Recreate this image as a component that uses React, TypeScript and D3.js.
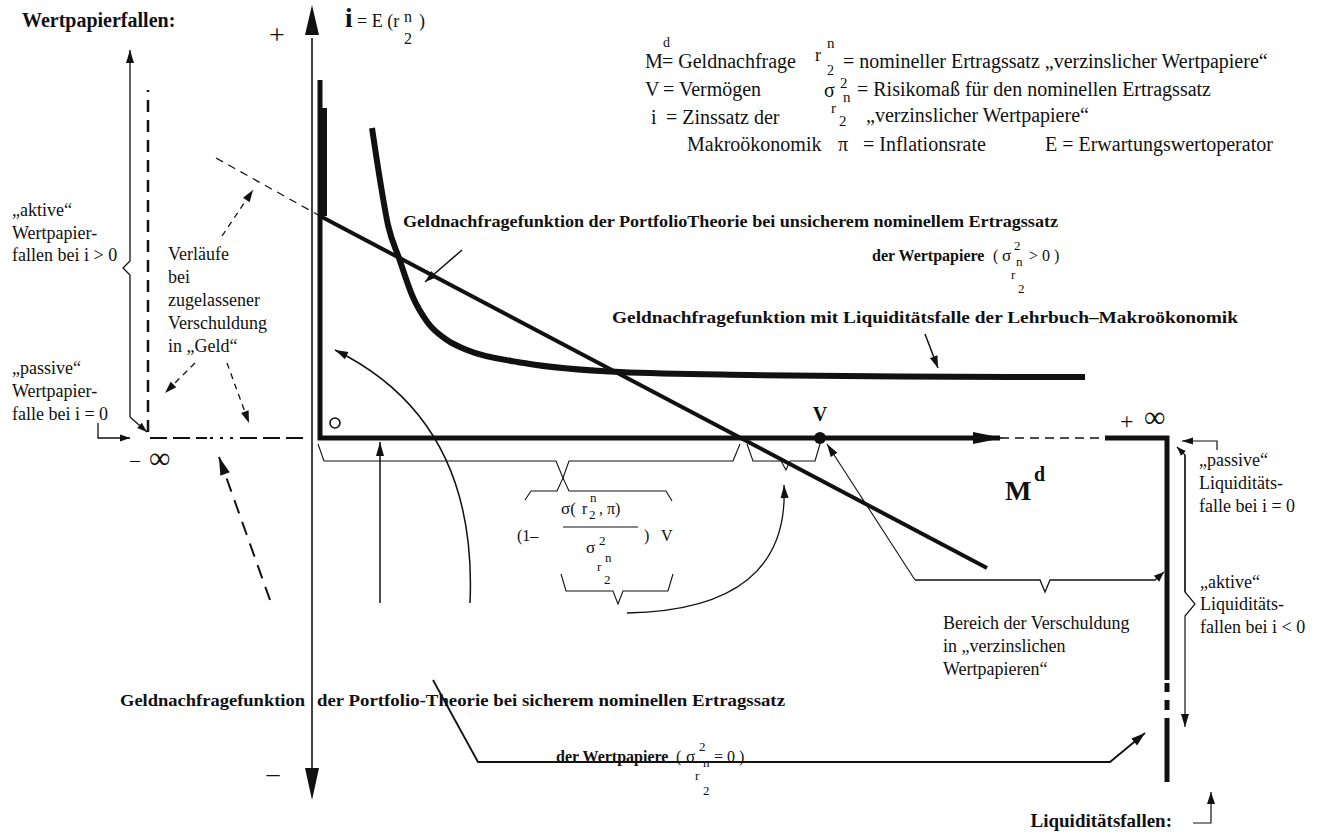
import React from 'react';
import * as d3 from 'd3';

type Pt = [number, number];

// Geldnachfrage M^d (V = 50) gegen Zinssatz i, schematische Einheiten
const trapMd = [5.2, 6.0, 6.8, 7.9, 9.2, 10.8, 12.7, 14.7, 20.4, 30, 42.9, 58, 76.5];
const trapI = [31, 25.8, 21.3, 18, 14.3, 11.5, 9.8, 8.8, 7.5, 6.6, 6.3, 6.15, 6.1];

const riskyMd = [0, 66.7];
const riskyI = [22.2, -13];
const riskyExtMd = [-10.4, 0];
const riskyExtI = [28, 22.2];

const certainMd = [0, 0, 68];
const certainI = [35.8, 0, 0];
const certainTopMd = [0.45, 0.45];
const certainTopI = [33, 22.2];

const V_MD = 50;

const plusInfMd = [78.5, 84.7, 84.7];
const plusInfI = [0, 0, -24.2];
const plusInfBreaks: Pt[] = [[-24.5, -25.4], [-26.2, -27.2], [-28, -34.4]];

const minusInfI = 0;
const minusInfDash: Pt[] = [[-17, -11.3], [-8, -1.7]];
const minusInfDots: Pt = [-12, -8.7];
const passiveWpMd = -17.2;
const passiveWpI: Pt = [0.6, 34.8];

const SERIF = '"Liberation Serif", "Times New Roman", serif';

const X = d3.scaleLinear().domain([0, 50]).range([320, 820]);
const Y = d3.scaleLinear().domain([0, 10]).range([438, 338]);
const zip = (a: number[], b: number[]): Pt[] => a.map((v, k) => [v, b[k]]);
const line = d3.line<Pt>().x(d => X(d[0])).y(d => Y(d[1]));

function headPath(tip: Pt, from: Pt, len = 11, hw = 3.5) {
  const tx = X(tip[0]), ty = Y(tip[1]);
  const fx = X(from[0]), fy = Y(from[1]);
  const dx = tx - fx, dy = ty - fy;
  const d = Math.hypot(dx, dy) || 1;
  const ux = dx / d, uy = dy / d;
  const bx = tx - ux * len, by = ty - uy * len;
  return `M${tx},${ty}L${bx - uy * hw},${by + ux * hw}L${bx + uy * hw},${by - ux * hw}Z`;
}

function quad(p0: Pt, c: Pt, p1: Pt) {
  const p = d3.path();
  p.moveTo(X(p0[0]), Y(p0[1]));
  p.quadraticCurveTo(X(c[0]), Y(c[1]), X(p1[0]), Y(p1[1]));
  return p.toString();
}

const Arrow = ({ pts, w = 1.3, dash, len = 11, hw = 3.5 }: { pts: Pt[]; w?: number; dash?: string; len?: number; hw?: number }) => (
  <g>
    <path d={line(pts) || ''} fill="none" stroke="#111" strokeWidth={w} strokeDasharray={dash} />
    <path d={headPath(pts[pts.length - 1], pts[pts.length - 2], len, hw)} fill="#111" />
  </g>
);

const T = ({ x, y, s = 18, b = false, a = 'start', tl, children }: any) => (
  <text x={x} y={y} fontSize={s} fontWeight={b ? 'bold' : 'normal'} textAnchor={a} fontFamily={SERIF} fill="#111"
    textLength={tl} lengthAdjust={tl ? 'spacingAndGlyphs' : undefined}>{children}</text>
);

const Brace = ({ pts }: { pts: Pt[] }) => (
  <path d={line(pts) || ''} fill="none" stroke="#111" strokeWidth={1.1} />
);

export default function App() {
  const trap = zip(trapMd, trapI);
  const trapLine = d3.line<Pt>().x(d => X(d[0])).y(d => Y(d[1])).curve(d3.curveMonotoneX);
  return (
    <svg width={1330} height={838} style={{ position: 'absolute', left: 0, top: 0, background: '#fff' }}>
      {/* i-Achse */}
      <path d={line([[-0.8, -33], [-0.8, 40]]) || ''} stroke="#111" strokeWidth={1.6} />
      <path d={headPath([-0.8, 43.3], [-0.8, 0], 30, 7)} fill="#111" />
      <path d={headPath([-0.8, -36.2], [-0.8, 0], 32, 7)} fill="#111" />

      {/* sichere Portfolio-Geldnachfrage (L-Form) */}
      <path d={line(zip(certainMd, certainI)) || ''} fill="none" stroke="#111" strokeWidth={5} />
      <path d={line(zip(certainTopMd, certainTopI)) || ''} fill="none" stroke="#111" strokeWidth={5} />
      <path d={headPath([68.3, 0], [0, 0], 30, 6)} fill="#111" />
      <path d={line([[68, 0], [78.3, 0]]) || ''} stroke="#111" strokeWidth={1.3} strokeDasharray="9,6" />
      <path d={line(zip(plusInfMd, plusInfI)) || ''} fill="none" stroke="#111" strokeWidth={5} />
      {plusInfBreaks.map((s, k) => (
        <path key={k} d={line([[plusInfMd[2], s[0]], [plusInfMd[2], s[1]]]) || ''} stroke="#111" strokeWidth={5} />
      ))}

      {/* unsichere Portfolio-Geldnachfrage */}
      <path d={line(zip(riskyMd, riskyI)) || ''} fill="none" stroke="#111" strokeWidth={4} />
      <path d={line(zip(riskyExtMd, riskyExtI)) || ''} fill="none" stroke="#111" strokeWidth={1.2} strokeDasharray="8,6" />

      {/* Lehrbuch-Liquiditätsfalle */}
      <path d={trapLine(trap) || ''} fill="none" stroke="#111" strokeWidth={6} />

      {/* Wertpapierfallen links */}
      <path d={line([[passiveWpMd, passiveWpI[0]], [passiveWpMd, passiveWpI[1]]]) || ''} stroke="#111" strokeWidth={2.5} strokeDasharray="12,8" />
      {minusInfDash.map((s, k) => (
        <path key={k} d={line([[s[0], minusInfI], [s[1], minusInfI]]) || ''} stroke="#111" strokeWidth={2.2} strokeDasharray="17,6" />
      ))}
      <path d={line([[minusInfDots[0], minusInfI], [minusInfDots[1], minusInfI]]) || ''} stroke="#111" strokeWidth={2.2} strokeDasharray="3,7" />

      <circle cx={X(1.5)} cy={Y(1.5)} r={5} fill="none" stroke="#111" strokeWidth={1.6} />
      <circle cx={X(V_MD)} cy={Y(0)} r={6} fill="#111" />

      {/* Pfeile links */}
      <Arrow pts={[[-19, 2.1], [-19, 16.3], [-19.7, 17], [-19, 17.7], [-19, 38.8]]} len={13} hw={4} />
      <Arrow pts={[[-19, 2.1], [-17.3, 0.6]]} len={10} hw={3.5} />
      <Arrow pts={[[-22.2, 1.5], [-22.2, 0], [-19, 0]]} len={10} hw={3.5} />
      <Arrow pts={[[-9.8, 20.2], [-6.7, 24.8]]} dash="6,5" len={12} hw={4} />
      <Arrow pts={[[-12.5, 7.5], [-15.5, 4.5]]} dash="6,5" len={12} hw={4} />
      <Arrow pts={[[-9.3, 7.5], [-7.1, 1.5]]} dash="6,5" len={12} hw={4} />
      <Arrow pts={[[-5, -16.2], [-10.1, -1.9]]} w={2} dash="14,9" len={18} hw={5} />

      {/* Pfeile Mitte */}
      <Arrow pts={[[14.2, 18.8], [10.5, 15.6]]} w={1.5} len={12} hw={4} />
      <Arrow pts={[[60.5, 10.4], [61.8, 7]]} w={1.5} len={12} hw={4} />
      <Arrow pts={[[6, -16.5], [6, -0.4]]} w={1.5} len={14} hw={4} />
      <path d={quad([15, -16.5], [15.8, 1.8], [1.5, 8.8])} fill="none" stroke="#111" strokeWidth={1.5} />
      <path d={headPath([1.5, 8.8], [15.8, 1.8], 13, 4)} fill="#111" />
      <path d={quad([30.7, -17.5], [47, -17.2], [46.4, -4.7])} fill="none" stroke="#111" strokeWidth={1.3} />
      <path d={headPath([46.4, -4.7], [47, -17.2], 13, 4)} fill="#111" />

      <Brace pts={[[-0.2, -0.6], [0.4, -2.3], [23.6, -2.3], [24.3, -4], [24.9, -2.3], [41.3, -2.3], [42, -0.6]]} />
      <Brace pts={[[20.5, -6.2], [21.1, -5.3], [23.7, -5.3], [24.3, -4], [24.9, -5.3], [34.6, -5.3], [35.2, -6.3]]} />
      <Brace pts={[[42.7, -0.6], [43.3, -2.3], [46.1, -2.3], [46.6, -3.2], [47, -2.3], [49.5, -2.3], [50, -0.6]]} />
      <Brace pts={[[24.1, -13.6], [24.6, -15.3], [29.3, -15.3], [29.8, -16.6], [30.3, -15.3], [34.8, -15.3], [35.3, -13.6]]} />

      {/* Pfeile rechts */}
      <Arrow pts={[[59.5, -14.2], [50.7, -0.6]]} w={1.1} len={13} hw={4} />
      <Arrow pts={[[59.5, -14.2], [72, -14.2], [72.5, -15.4], [73, -14.2], [83.5, -14.2], [84.4, -13.4]]} w={1.3} len={10} hw={4} />
      <Arrow pts={[[89.7, -1.2], [89.7, -0.3], [86.2, -0.3]]} w={1.2} len={11} hw={3.5} />
      <Arrow pts={[[86.5, -15.4], [86.5, -1.7], [85.7, -0.9]]} w={1.2} len={9} hw={3.5} />
      <Arrow pts={[[86.5, -1.7], [86.5, -15.4], [87.5, -16.6], [86.5, -17.8], [86.5, -28.9]]} w={1.2} len={13} hw={4} />
      <Arrow pts={[[87.3, -38.5], [89.1, -38.5], [89.1, -35.4]]} w={1.2} len={12} hw={4} />
      <Arrow pts={[[11.3, -24.2], [15.8, -32.4], [79, -32.4], [82.5, -29.5]]} w={1.8} len={14} hw={4.5} />

      {/* Texte */}
      <T x={22} y={27} b s={20}>Wertpapierfallen:</T>
      <T x={277} y={44} s={28} a="middle">+</T>
      <T x={273} y={782} s={26} a="middle">–</T>
      <T x={345} y={27} b s={27}>i</T>
      <T x={357} y={27} s={18}>= E (r</T>
      <T x={404} y={22} s={16}>n</T>
      <T x={404} y={44} s={16}>2</T>
      <T x={419} y={27} s={18}>)</T>

      {/* Legende */}
      <T x={645} y={68} s={20}>M</T>
      <T x={663} y={47} s={14}>d</T>
      <T x={662} y={68} s={20}>= Geldnachfrage</T>
      <T x={645} y={96} s={20}>V</T>
      <T x={663} y={96} s={20}>= Vermögen</T>
      <T x={651} y={124} s={20}>i</T>
      <T x={666} y={124} s={20}>= Zinssatz der</T>
      <T x={687} y={151} s={20}>Makroökonomik</T>
      <T x={815} y={61} s={18}>r</T>
      <T x={827} y={48} s={15}>n</T>
      <T x={827} y={75} s={14}>2</T>
      <T x={843} y={68} s={20}>= nomineller Ertragssatz „verzinslicher Wertpapiere“</T>
      <T x={824} y={97} s={20}>σ</T>
      <T x={840} y={88} s={15}>2</T>
      <T x={843} y={102} s={15}>n</T>
      <T x={831} y={113} s={15}>r</T>
      <T x={839} y={126} s={15}>2</T>
      <T x={857} y={96} s={20}>= Risikomaß für den nominellen Ertragssatz</T>
      <T x={866} y={122} s={20}>„verzinslicher Wertpapiere“</T>
      <T x={838} y={151} s={20}>π</T>
      <T x={863} y={151} s={20}>= Inflationsrate</T>
      <T x={1045} y={151} s={20}>E = Erwartungswertoperator</T>

      <T x={403} y={227} b s={16} tl={655}>Geldnachfragefunktion der PortfolioTheorie bei unsicherem nominellem Ertragssatz</T>
      <T x={872} y={261} b s={16}>der Wertpapiere</T>
      <T x={993} y={261} s={16}>(</T>
      <T x={1002} y={261} s={17}>σ</T>
      <T x={1014} y={250} s={13}>2</T>
      <T x={1016} y={266} s={13}>n</T>
      <T x={1029} y={261} s={16}>{'> 0 )'}</T>
      <T x={1011} y={279} s={13}>r</T>
      <T x={1018} y={293} s={13}>2</T>
      <T x={612} y={323} b s={16} tl={626}>Geldnachfragefunktion mit Liquiditätsfalle der Lehrbuch–Makroökonomik</T>
      <T x={120} y={706} b s={16} tl={185}>Geldnachfragefunktion</T>
      <T x={317} y={706} b s={16} tl={468}>der Portfolio-Theorie bei sicherem nominellen Ertragssatz</T>
      <T x={556} y={762} b s={16}>der Wertpapiere</T>
      <T x={676} y={762} s={16}>(</T>
      <T x={686} y={762} s={17}>σ</T>
      <T x={699} y={751} s={13}>2</T>
      <T x={703} y={767} s={13}>n</T>
      <T x={714} y={762} s={16}>= 0 )</T>
      <T x={695} y={780} s={13}>r</T>
      <T x={703} y={795} s={13}>2</T>

      <T x={12} y={216}>„aktive“</T>
      <T x={12} y={239}>Wertpapier-</T>
      <T x={12} y={261}>fallen bei i {'>'} 0</T>
      <T x={168} y={260}>Verläufe</T>
      <T x={168} y={283}>bei</T>
      <T x={168} y={306}>zugelassener</T>
      <T x={168} y={329}>Verschuldung</T>
      <T x={168} y={352}>in „Geld“</T>
      <T x={12} y={374}>„passive“</T>
      <T x={12} y={397}>Wertpapier-</T>
      <T x={12} y={420}>falle bei i = 0</T>
      <T x={130} y={467} s={20}>–</T>
      <T x={149} y={468} s={30}>∞</T>
      <T x={1120} y={429} s={24}>+</T>
      <T x={1144} y={427} s={30}>∞</T>
      <T x={820} y={421} b s={20} a="middle">V</T>
      <T x={1005} y={500} b s={28}>M</T>
      <T x={1034} y={481} b s={20}>d</T>

      <T x={517} y={541} s={16}>(1–</T>
      <T x={561} y={514} s={17}>σ(</T>
      <T x={582} y={514} s={16}>r</T>
      <T x={590} y={502} s={13}>n</T>
      <T x={589} y={519} s={13}>2</T>
      <T x={599} y={514} s={16}>, π)</T>
      <path d={`M563,527H638`} stroke="#111" strokeWidth={1} />
      <T x={586} y={553} s={17}>σ</T>
      <T x={599} y={545} s={13}>2</T>
      <T x={605} y={562} s={13}>n</T>
      <T x={597} y={571} s={13}>r</T>
      <T x={604} y={584} s={13}>2</T>
      <T x={644} y={541} s={16}>)</T>
      <T x={661} y={541} s={16}>V</T>

      <T x={1199} y={466}>„passive“</T>
      <T x={1199} y={489}>Liquiditäts-</T>
      <T x={1199} y={512}>falle bei i = 0</T>
      <T x={1200} y={588}>„aktive“</T>
      <T x={1200} y={610}>Liquiditäts-</T>
      <T x={1200} y={633}>fallen bei i {'<'} 0</T>
      <T x={943} y={629}>Bereich der Verschuldung</T>
      <T x={943} y={652}>in „verzinslichen</T>
      <T x={943} y={675}>Wertpapieren“</T>
      <T x={1172} y={827} b s={19} a="end">Liquiditätsfallen:</T>
    </svg>
  );
}
